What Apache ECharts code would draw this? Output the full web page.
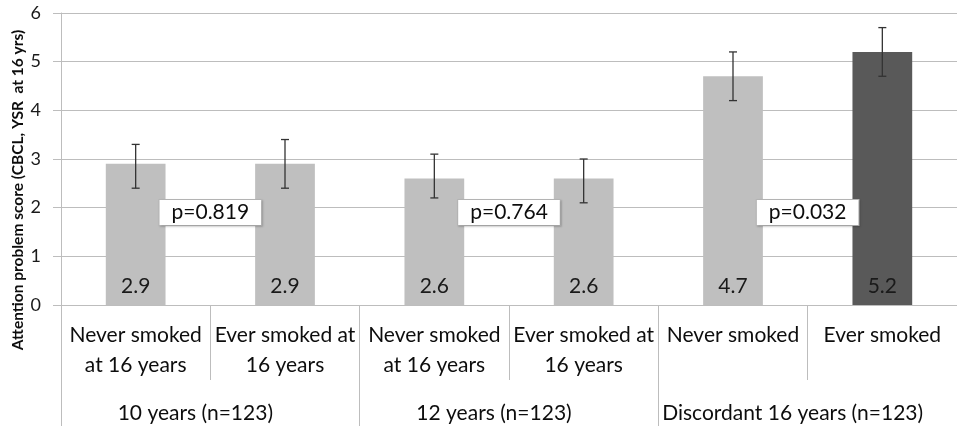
<!DOCTYPE html>
<html>
<head>
<meta charset="utf-8">
<script src="https://cdn.jsdelivr.net/npm/echarts@6/dist/echarts.min.js"></script>
<style>
  html, body { margin: 0; padding: 0; background: #ffffff; }
  #chart { width: 957px; height: 428px; }
</style>
</head>
<body>
<div id="chart"></div>
<script>
// Attention problem scores by smoking status, three comparison groups
var categories = [
  'Never smoked\nat 16 years', 'Ever smoked at\n16 years',
  'Never smoked\nat 16 years', 'Ever smoked at\n16 years',
  'Never smoked', 'Ever smoked'
];
var groups = ['10 years (n=123)', '12 years (n=123)', 'Discordant 16 years (n=123)'];
var scores = [2.9, 2.9, 2.6, 2.6, 4.7, 5.2];
var errLow = [2.4, 2.4, 2.2, 2.1, 4.2, 4.7];
var errHigh = [3.3, 3.4, 3.1, 3.0, 5.2, 5.7];
var pValues = ['p=0.819', 'p=0.764', 'p=0.032'];
var pLevel = 1.9;           // height at which each p-value box sits
var highlightIndex = 5;     // the one bar drawn in dark grey
var yTicks = [0, 1, 2, 3, 4, 5, 6];

var FONT = 'Lato, "Open Sans", sans-serif';
var GRID_GREY = '#bdbdbd';
var TEXT = '#0d0d0d';

var chart = echarts.init(document.getElementById('chart'), null, { renderer: 'canvas' });

var barData = scores.map(function (v, i) {
  return {
    value: v,
    itemStyle: { color: i === highlightIndex ? '#595959' : '#bfbfbf' }
  };
});

var errData = scores.map(function (v, i) { return [i, errLow[i], errHigh[i]]; });
var pData = pValues.map(function (p, k) { return [k * 2, pLevel, p]; });

var option = {
  animation: false,
  backgroundColor: '#ffffff',
  grid: { left: 61, top: 13, width: 904, height: 294, containLabel: false },
  graphic: [{
    type: 'text',
    x: 18, y: 190,
    rotation: Math.PI / 2,
    style: {
      text: 'Attention problem score (CBCL, YSR  at 16 yrs)',
      font: 'bold 15.5px ' + FONT,
      fill: TEXT,
      align: 'center',
      verticalAlign: 'middle'
    }
  }],
  xAxis: [{
    type: 'category',
    data: categories,
    position: 'bottom',
    boundaryGap: true,
    axisLine: { show: true, lineStyle: { color: GRID_GREY, width: 1 } },
    axisTick: { show: true, interval: 0, length: 75, lineStyle: { color: GRID_GREY } },
    axisLabel: {
      interval: 0,
      margin: 15,
      fontFamily: FONT,
      fontSize: 21,
      lineHeight: 30,
      color: TEXT,
      align: 'center'
    },
    splitLine: { show: false }
  }, {
    type: 'category',
    data: groups,
    position: 'bottom',
    boundaryGap: true,
    axisLine: { show: false },
    axisTick: { show: true, interval: 0, length: 121, lineStyle: { color: GRID_GREY } },
    axisLabel: {
      interval: 0,
      margin: 93,
      fontFamily: FONT,
      fontSize: 21,
      lineHeight: 30,
      color: TEXT,
      padding: [0, 30, 0, 0]
    },
    splitLine: { show: false }
  }],
  yAxis: {
    type: 'value',
    min: 0, max: 6, interval: 1,
    axisLine: { show: true, lineStyle: { color: GRID_GREY, width: 1 } },
    axisTick: { show: true, length: 8, lineStyle: { color: GRID_GREY } },
    axisLabel: {
      margin: 20,
      fontFamily: FONT,
      fontSize: 18,
      color: '#1a1a1a',
      formatter: function (v) { return yTicks.indexOf(v) >= 0 ? String(v) : ''; }
    },
    splitLine: { show: true, lineStyle: { color: GRID_GREY, width: 1 } }
  },
  series: [{
    type: 'bar',
    data: barData,
    barWidth: '40%',
    label: {
      show: true,
      position: 'insideBottom',
      distance: 8,
      fontFamily: FONT,
      fontSize: 21,
      color: '#1a1a1a',
      formatter: function (p) { return p.value.toFixed(1); }
    }
  }, {
    type: 'custom',
    name: 'error',
    data: errData,
    z: 5,
    renderItem: function (params, api) {
      var idx = api.value(0);
      var lo = api.coord([idx, api.value(1)]);
      var hi = api.coord([idx, api.value(2)]);
      var cap = 4;
      var st = { stroke: '#333333', lineWidth: 1.3 };
      return {
        type: 'group',
        children: [
          { type: 'line', shape: { x1: hi[0], y1: hi[1], x2: lo[0], y2: lo[1] }, style: st },
          { type: 'line', shape: { x1: hi[0] - cap, y1: hi[1], x2: hi[0] + cap, y2: hi[1] }, style: st },
          { type: 'line', shape: { x1: lo[0] - cap, y1: lo[1], x2: lo[0] + cap, y2: lo[1] }, style: st }
        ]
      };
    }
  }, {
    type: 'custom',
    name: 'pvalue',
    data: pData,
    z: 10,
    renderItem: function (params, api) {
      var left = api.value(0);
      var a = api.coord([left, api.value(1)]);
      var b = api.coord([left + 1, api.value(1)]);
      var cx = (a[0] + b[0]) / 2;
      return {
        type: 'text',
        x: cx, y: a[1],
        style: {
          text: pData[params.dataIndex][2],
          font: '21px ' + FONT,
          fill: TEXT,
          align: 'center',
          verticalAlign: 'middle',
          backgroundColor: '#ffffff',
          borderColor: '#b5b5b5',
          borderWidth: 1,
          padding: [2, 12, 2, 12],
          shadowColor: 'rgba(0,0,0,0.15)',
          shadowBlur: 2,
          shadowOffsetX: 1,
          shadowOffsetY: 1
        }
      };
    }
  }]
};

chart.setOption(option);
</script>
</body>
</html>
